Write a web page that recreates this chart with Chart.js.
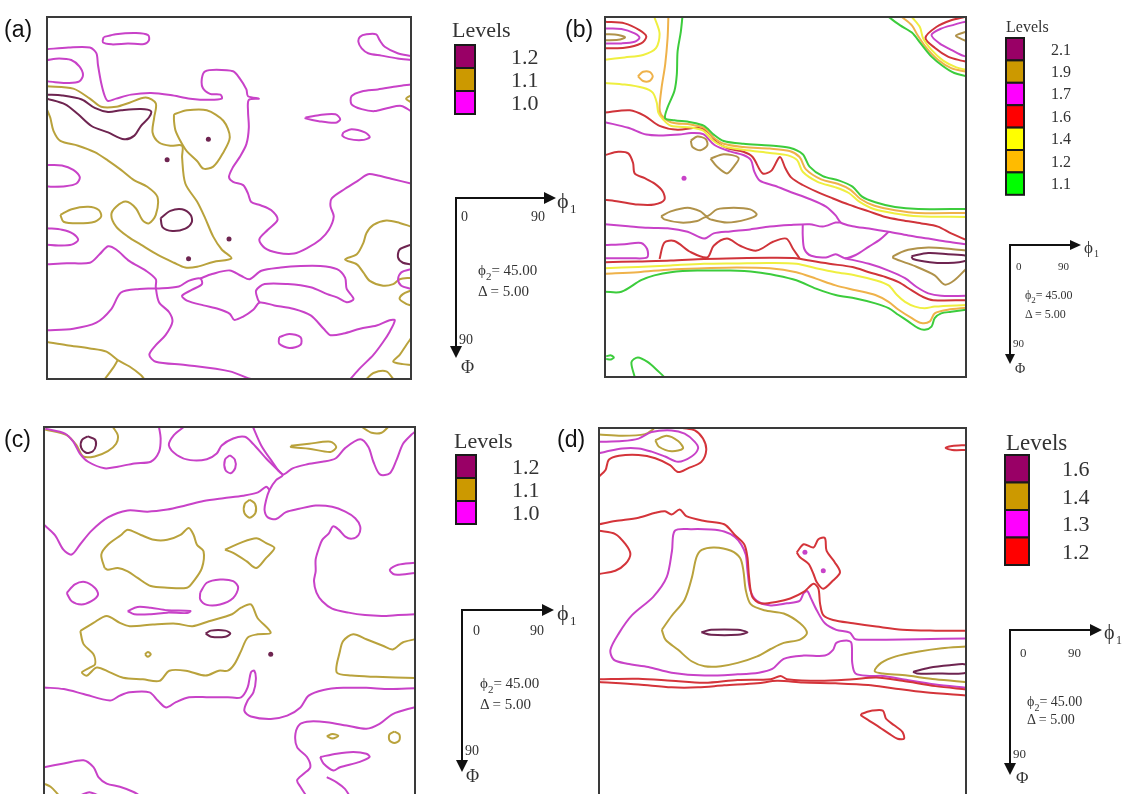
<!DOCTYPE html>
<html><head><meta charset="utf-8">
<script src="https://cdn.jsdelivr.net/npm/chart.js@4.4.1/dist/chart.umd.min.js"></script>
<style>
html,body{margin:0;padding:0;background:#fff;}
body{width:1123px;height:794px;overflow:hidden;position:relative;}
canvas{position:absolute;}
svg{position:absolute;left:0;top:0;}
</style></head><body>
<canvas id="ca" width="372" height="370" style="left:43px;top:13px"></canvas>
<canvas id="cb" width="369" height="368" style="left:601px;top:13px"></canvas>
<canvas id="cc" width="379" height="376" style="left:40px;top:423px"></canvas>
<canvas id="cd" width="375" height="375" style="left:595px;top:424px"></canvas>
<svg id="ann" width="1123" height="794" font-family="Liberation Serif, Times New Roman, serif" fill="#333">
<g font-family="Liberation Sans, Arial, sans-serif" font-size="23" fill="#111">
<text x="4" y="37">(a)</text><text x="565" y="37">(b)</text>
<text x="4" y="447">(c)</text><text x="557" y="447">(d)</text>
</g>
<g stroke="#111" stroke-width="2">
<line x1="456" y1="198" x2="546" y2="198"/><line x1="456" y1="197" x2="456" y2="348"/>
<line x1="1010" y1="245" x2="1072" y2="245"/><line x1="1010" y1="244" x2="1010" y2="355"/>
<line x1="462" y1="610" x2="544" y2="610"/><line x1="462" y1="609" x2="462" y2="762"/>
<line x1="1010" y1="630" x2="1092" y2="630"/><line x1="1010" y1="629" x2="1010" y2="765"/>
</g>
<g fill="#111">
<polygon points="544,192 556,198 544,204"/><polygon points="450,346 456,358 462,346"/>
<polygon points="1070,240 1081,245 1070,250"/><polygon points="1005,354 1010,364 1015,354"/>
<polygon points="542,604 554,610 542,616"/><polygon points="456,760 462,772 468,760"/>
<polygon points="1090,624 1102,630 1090,636"/><polygon points="1004,763 1010,775 1016,763"/>
</g>
<g fill="#333">
<text x="557" y="208" font-size="22">ϕ</text><text x="570" y="213" font-size="13">1</text>
<text x="461" y="221" font-size="14">0</text><text x="531" y="221" font-size="14">90</text>
<text x="478" y="275" font-size="15">ϕ<tspan dy="5" font-size="11">2</tspan><tspan dy="-5">= 45.00</tspan></text>
<text x="478" y="296" font-size="15">Δ = 5.00</text>
<text x="459" y="344" font-size="14">90</text><text x="461" y="373" font-size="18">Φ</text>

<text x="1084" y="253" font-size="17">ϕ</text><text x="1094" y="257" font-size="10">1</text>
<text x="1016" y="270" font-size="11">0</text><text x="1058" y="270" font-size="11">90</text>
<text x="1025" y="299" font-size="12">ϕ<tspan dy="4" font-size="9">2</tspan><tspan dy="-4">= 45.00</tspan></text>
<text x="1025" y="318" font-size="12">Δ = 5.00</text>
<text x="1013" y="347" font-size="11">90</text><text x="1015" y="373" font-size="14">Φ</text>

<text x="557" y="620" font-size="22">ϕ</text><text x="570" y="625" font-size="13">1</text>
<text x="473" y="635" font-size="14">0</text><text x="530" y="635" font-size="14">90</text>
<text x="480" y="688" font-size="15">ϕ<tspan dy="5" font-size="11">2</tspan><tspan dy="-5">= 45.00</tspan></text>
<text x="480" y="709" font-size="15">Δ = 5.00</text>
<text x="465" y="755" font-size="14">90</text><text x="466" y="782" font-size="18">Φ</text>

<text x="1104" y="639" font-size="20">ϕ</text><text x="1116" y="644" font-size="12">1</text>
<text x="1020" y="657" font-size="13">0</text><text x="1068" y="657" font-size="13">90</text>
<text x="1027" y="706" font-size="14">ϕ<tspan dy="5" font-size="10">2</tspan><tspan dy="-5">= 45.00</tspan></text>
<text x="1027" y="724" font-size="14">Δ = 5.00</text>
<text x="1013" y="758" font-size="13">90</text><text x="1016" y="783" font-size="17">Φ</text>
</g>
</svg>
<script>
// ---------- legend levels ----------
const A_LEVELS = ['1.2','1.1','1.0'];
const A_SWATCH = ['#990066','#cc9900','#ff00ff'];
const B_LEVELS = ['2.1','1.9','1.7','1.6','1.4','1.2','1.1'];
const B_SWATCH = ['#990066','#cc9900','#ff00ff','#ff0000','#ffff00','#ffbb00','#00ff00'];
const C_LEVELS = ['1.2','1.1','1.0'];
const C_SWATCH = ['#990066','#cc9900','#ff00ff'];
const D_LEVELS = ['1.6','1.4','1.3','1.2'];
const D_SWATCH = ['#990066','#cc9900','#ff00ff','#ff0000'];

// ---------- panel (a) contours [phi1, Phi] ----------
const A_10 = [
 [[14,5],[17,4.3],[22,4],[25,4.5],[25.2,5.8],[24,6.7],[20,6.6],[16,6.8],[13.8,6.3],[14,5]],
 [[0,10.7],[3,10.3],[6,10.7],[8,12.3],[8.9,14.4],[8,16],[5.3,16.4],[2,16.2],[0,16]],
 [[0,8],[5.3,7.6],[10.6,7.6],[12.2,9],[12.6,11.9],[13.4,16.4],[14.3,19.7],[15.1,20.9],[17.1,20.3],[20.8,19.3],[25.7,18.9],[30.5,19.4],[35.4,20.3],[40.3,20.6],[43.2,20.3],[42.9,19.3],[40.3,19.1],[38.5,17.6],[38.3,15.2],[39.1,13.5],[41.9,13.1],[46,13.5],[47.6,15.2],[49.3,18],[49.7,19.7],[52.4,20.3],[49.9,20.6],[49.7,23.4],[49.9,27.5],[49.3,31.6],[47.6,34.9],[46,37.3],[45,39.8],[46,41],[48.5,41.8],[49.7,43.9],[50.5,46],[52.8,46.8],[55.4,48],[57,50.4],[54.6,52.9],[52.5,55.3],[53.8,57.4],[57,58.6],[61.1,58.8],[64.4,57.4],[67.6,55.3],[69.7,52.9],[70.9,49.6],[70.1,47.1],[70.4,45.1],[73.7,42.7],[77,40.6],[79.4,39.1],[81.8,39.4],[85.1,40.2],[90,41.4]],
 [[90,9.7],[86.7,9],[83.5,7.4],[82.2,5.7],[81.4,4.3],[79,4.3],[77.4,4.9],[77,6.2],[77.8,7.8],[79.4,9],[82.7,9.6],[86.7,10.3],[90,10.7]],
 [[90,16.8],[86.7,17.2],[81.8,18],[77.8,18.5],[75.3,19.7],[75.3,21.7],[77.8,22.9],[81,23.4],[84.3,22.6],[87.6,22.1],[90,23.4]],
 [[63.9,25],[67.2,24.4],[71.3,24.2],[72.5,25.4],[71.3,26.3],[67.2,25.9],[63.9,25.2],[63.9,25]],
 [[73.3,28.7],[75.3,27.9],[78.6,28.7],[79.8,29.9],[77.8,30.6],[74.5,30.3],[73,29.5],[73.3,28.7]],
 [[0,36.8],[3.7,36.9],[6.5,38],[8.1,39.8],[7.3,41.4],[4.5,42.1],[1.2,42.2],[0,42.1]],
 [[0,52.5],[3.7,52.9],[6.5,53.9],[7.7,55.4],[6.1,56.6],[2.8,56.8],[0,56.6]],
 [[0,61.5],[4.9,61.2],[10.6,61.1],[13,59],[15.1,57],[17.1,57.8],[20.4,60.7],[24.5,63.1],[26.9,65.2],[26.9,67.2],[27.7,70.9],[30.2,73.4],[31,75.8],[29.3,79.1],[26.9,81.6],[25.3,84],[26.9,85.7],[34.2,86.5],[45.2,88.1],[49.7,89.8],[50.5,90]],
 [[0,77.9],[6.5,77.5],[12.2,76],[15.9,72.6],[18.3,68.5],[22.8,67.6],[27.7,67.5],[32.6,67],[35,65.6],[37.9,65],[38.3,66.4],[35.9,67.8],[33.4,69.3],[34.6,70.5],[38.7,71.7],[42.4,72.6],[45.2,73.8],[46.3,75.3],[48.5,74.5],[51,72.8],[52.6,71],[56.2,71.7],[61.1,72.6],[65.2,74.2],[68.4,77.5],[70.1,79.1],[73.3,78.7],[77.4,77.5],[81.5,76.7],[84.7,75.4],[86,75.4],[84.7,78.3],[83.1,80.8],[80.7,84],[77.4,87.3],[75,90]],
 [[37.9,65],[40.8,63.9],[45.2,63],[48.1,64.4],[50.1,65.2],[53,63.1],[57.8,62.3],[62.7,61.9],[67.6,61.9],[71.7,62.7],[73.7,64.8],[74.1,67.6],[75.8,70.1],[74.1,70.9],[71.7,69.7],[69.3,68.9],[65.2,67.2],[59.5,66.4],[53.8,66.4],[51.7,68],[52.1,70.1],[52.6,71]],
 [[57.4,79.6],[59.9,78.8],[62.7,79.6],[62.7,81.5],[59.9,82.3],[57.4,81.2],[57.4,79.6]],
 [[90,62.7],[87.6,63.5],[86.8,65.2],[87.6,66.8],[90,67.6]]
];
const A_11 = [
 [[0,17.2],[6.5,17.8],[10.6,20.3],[13.4,22.3],[17.1,22.3],[20.4,21.3],[24.4,20],[26.9,21.5],[26.5,25],[26.1,28.7],[27.7,31.2],[30.5,32],[33.4,32],[33.4,34.9],[34.2,41.4],[37.1,45.9],[39.1,50],[41.1,54.6],[43.2,57.8],[45.6,60],[41.1,60.9],[37.1,62.1],[34.2,62.3],[31.4,61.1],[27.3,59.1],[23.2,56.6],[20,54.6],[17.1,52.1],[15.9,49.2],[17.1,47.2],[19.5,45.9],[22,47.6],[23.6,50.5],[25.2,51.3],[26.9,49.2],[27.3,44.7],[24.8,42.2],[21.6,40.6],[18.3,38],[15.1,35.7],[11.8,33.6],[7.7,32],[3.3,30.8],[1.6,28.3],[0.8,25],[0,23]],
 [[31.4,24.2],[34.6,23.2],[39.5,23.2],[43.6,25.8],[45.2,29.9],[43.4,34],[41.1,37.2],[38.7,37.7],[37.1,35.8],[34.6,33.4],[33.4,31.6],[31.8,28.3],[31.4,25.8],[31.4,24.2]],
 [[3.3,49.2],[6.1,47.8],[10.2,47.2],[12.8,48],[13.4,49.6],[11.8,50.9],[7.7,51.3],[4.1,50.9],[3.3,49.2]],
 [[90,52.1],[87.2,51.2],[83.9,50.6],[80.7,51.7],[79,53.7],[78.2,56.2],[76.6,59],[73.7,60.3],[76.6,61.5],[78.2,63.5],[79.8,65.6],[83.1,66.8],[85.6,66.4],[87.2,65.2],[90,64.8]],
 [[90,68],[88,68.9],[87.2,70.1],[88.8,71.3],[90,71.7]],
 [[90,19.5],[88.8,20.3],[90,21.2]],
 [[0,80.8],[4.9,81.6],[10.6,82.4],[14.7,83.2],[17.5,85.3],[20.4,86.9],[23.2,89],[24,90]],
 [[17.5,85.3],[16.3,87.3],[14.3,90]],
 [[90,79.9],[88.8,81.6],[87.2,84],[85.6,85.7],[88,86.3],[90,86.5]],
 [[79,90],[80.7,88.5],[83.9,88.1],[85.6,90]]
];
const A_12 = [
 [[0,20.3],[4.5,21.7],[7.7,24.2],[11,27.1],[15.1,28.7],[19.1,30.4],[21.6,29.5],[23.2,27.1],[25.2,25],[25.7,23.4],[23.2,22.9],[18.3,23.2],[15.1,23.6],[11.8,22.6],[8.6,20.5],[3.7,19.5],[0,19.3]],
 [[28.1,50],[30.5,48.2],[33.4,47.8],[35.5,49.2],[35.8,51],[34.2,52.6],[31,53.2],[28.6,52.3],[28.1,50]],
 [[90,56.6],[87.2,57.8],[86.8,59.8],[88,61.1],[90,61.5]]
];
const A_DOTS = [[39.9,30.4],[29.7,35.5],[35,60.1],[45,55.2]];

// ---------- panel (b) ----------
const B_11 = [
 [[19.3,0],[18.9,3.7],[18.1,8.6],[17.9,14.4],[17.3,18.5],[15.6,22.6],[15,25.3],[17.3,25.8],[21.4,26.3],[24.7,27.2],[27.1,29.4],[29.6,31],[34.5,31.7],[41.1,32.1],[46,32.7],[49.3,34.3],[51,37.4],[54.3,39.8],[58.4,40.9],[61.7,42.4],[64.1,44.9],[67.4,46.3],[72.3,47.5],[78.1,48],[90,48]],
 [[0,68.7],[4.1,68.7],[9,65.8],[12.3,64.6],[16.4,63.8],[23,63.4],[31.2,63.4],[37.8,63.8],[42.7,64.6],[47.7,65.8],[52.6,67.9],[57.5,69.5],[62.5,70.4],[67.4,71.6],[70.7,72.8],[73.2,74.5],[75.6,76.1],[78.1,77.8],[79.7,78.2],[81.4,77.4],[82.2,75.3],[83.8,74.1],[86.3,73.7],[90,73.2]],
 [[70.7,0],[73.6,2.1],[76.5,3.9],[78.7,6.6],[81.4,9.9],[84.3,12.3],[87.1,14],[90,14.8]],
 [[7.4,90],[6.6,86.3],[8.2,85.1],[10.7,86.3],[13.2,88.5],[14.8,90]],
 [[0.3,84.8],[1.5,84.6],[2.2,85.1],[1.5,85.6],[0.3,85.5]]
];
const B_12 = [
 [[15.8,0],[15.6,5.3],[15,11.9],[14.1,17.7],[13.6,22.6],[14,24.4],[16.4,26.3],[21.4,26.9],[24.7,27.7],[26.9,30],[29.6,31.7],[34.5,32.5],[41.1,32.9],[46,33.5],[48.5,35],[50.1,38.1],[53.9,40.6],[58,41.7],[61.2,43.2],[63.7,45.5],[67.2,47.2],[72.3,48.3],[78.1,49],[90,49]],
 [[0,64.2],[8.2,63.8],[16.4,63.1],[24.7,62.8],[32.9,62.6],[41.1,62.8],[47.7,63.8],[52.6,65.4],[57.5,67.1],[62.5,68.3],[67.4,69.5],[70.7,71.2],[73.2,73.2],[76.5,75.3],[78.9,76.5],[81,76.1],[82.2,74.1],[85.5,73.2],[90,72.7]],
 [[74,0],[76.5,2.1],[77.9,4.5],[80.2,7.8],[83,10.7],[86.3,12.8],[90,13.7]],
 [[8.2,14.8],[9.5,13.7],[11.1,13.7],[11.9,14.8],[11.1,16],[9.5,16],[8.2,14.8]]
];
const B_14 = [
 [[0,16.5],[4.9,16.9],[9.5,17.7],[11.9,18.9],[12.9,21.4],[13.3,23.9],[14.4,25.5],[16.4,27.2],[21.4,27.6],[24.5,28.4],[26.7,30.7],[29.4,32.3],[34.5,33.2],[41.1,34],[45.6,34.6],[47.9,35.8],[49.3,38.7],[53,41.2],[57.5,42.6],[60.8,44],[63.3,46.1],[67,48],[72.3,49.1],[78.1,49.8],[90,50]],
 [[12.3,0],[13.6,4.1],[12.7,7.8],[9.5,9.5],[4.9,10.1],[0,10.7]],
 [[0,62.8],[8.2,62.5],[16.4,62.1],[24.7,61.7],[32.9,61.6],[41.1,61.5],[47.7,61.7],[52.6,62.8],[57.5,63.8],[62.5,64.6],[67.4,65.8],[70.7,67.1],[72.8,69.5],[74.8,71.2],[77.3,72.4],[79.7,72.8],[82.2,72.4],[90,72]],
 [[76.5,0],[78.5,2.5],[79.3,5.3],[81.4,8.2],[84.3,10.9],[87.6,12.6],[90,13.2]]
];
const B_16 = [
 [[0,1.2],[4.9,1.6],[8.6,3.3],[10.3,4.9],[9,6.6],[4.9,7.7],[0,7.8]],
 [[0,23.9],[6.2,23.3],[9.9,24.7],[13.6,27.2],[18.1,28.2],[23,27.7],[25.5,28.6],[27.9,31.3],[30.8,32.9],[34.5,33.7],[36.8,35],[39.3,39.1],[41.5,38.4],[43.6,35],[45,37.9],[46.4,40.1],[49.3,42],[52.6,43.6],[56.7,45.3],[60.8,46.9],[65.8,48.6],[69.9,50],[74,50.8],[78.9,51.6],[83,52.4],[86.3,54.1],[90,55.7]],
 [[0,34.5],[3.3,33.7],[5.8,34.1],[7,36.5],[7.4,39.1],[9.9,40.3],[12.3,41.6],[14.4,43.6],[14.8,45.7],[12.3,46.9],[8.2,46.9],[3.3,46.1],[0,45.7]],
 [[13.6,60.5],[14.8,56.4],[17.3,56],[21.4,58.8],[25.5,60.1],[27.1,57.2],[30.4,55.4],[33.7,57.2],[37.8,58.4],[41.9,56.2],[45.2,55.4],[46.9,58],[48.5,60.3]],
 [[0,61.3],[8.2,61.1],[16.4,60.9],[24.7,60.5],[32.9,60.3],[41.1,60.2],[47.7,60.3],[51,60.9],[55.9,61.7],[61.7,62.5],[65.8,63.8],[69.9,65],[73.2,66.3],[76.4,68.3],[79.3,70],[81.8,70.8],[90,70.8]],
 [[89.6,0],[86.3,0.8],[82.6,2.5],[79.9,5.2],[82.2,7.7],[85.5,9.9],[88.8,10.9],[90,11.1]]
];
const B_17 = [
 [[0,2.9],[4.1,3],[7.4,4.1],[8.6,5.2],[7.4,6.2],[4.1,6.6],[0,6.6]],
 [[0,26.3],[5.8,27.7],[10.3,29.4],[14.5,29.6],[18.5,29.4],[21.5,29],[24.5,29.3],[27.3,32],[31.2,33.6],[34.5,34.5],[36.4,35.8],[37.2,38.6],[38.6,40.9],[42.3,42.2],[46.4,43.8],[51,45.5],[55.1,47.4],[57.5,49.6],[58.8,51.4],[61.7,52.3],[65.8,52.9],[70.7,53.7],[75.6,54.6],[80.6,55.4],[85.5,56.2],[90,56.8]],
 [[0,51.8],[5.8,52.3],[10.7,52.7],[15.6,52.8],[20.6,53.7],[24.7,55.4],[27.1,54.1],[31.2,53.6],[36.2,53.1],[41.1,52.4],[46,52],[51,51.8],[54.3,52.4],[57.5,51.4],[58.8,51.4]],
 [[0,57],[4.9,56.8],[9,56.5],[10.5,58],[10.5,60.1],[6.6,60.3],[0,60.3]],
 [[49.3,52],[49.3,54.7],[49.7,58],[51.4,59.7],[55.1,60.1],[57.5,59.3],[59.8,60.3],[62.5,59.5],[65.8,57.4],[68.6,55.6],[70.7,53.7]],
 [[59.8,60.3],[65.8,61.7],[70.7,63.4],[74.8,65.3],[77.7,67.5],[80.6,69.1],[83.8,69.7],[90,69.7]],
 [[90,1.1],[87.1,1.9],[83.8,2.9],[81.4,4.5],[83.4,6.6],[86.3,8.2],[88.8,9.5],[90,9.9]]
];
const B_19 = [
 [[21.4,30.9],[23,29.9],[25.1,30.5],[25.5,32.1],[23.8,33.3],[21.8,32.5],[21.4,30.9]],
 [[26.3,35.4],[29.6,34.3],[33.3,35.2],[32.1,37.4],[30.4,39.1],[27.9,37.4],[26.3,35.4]],
 [[14,49.8],[16.4,48.6],[20.6,47.7],[23.8,48.6],[25.5,49.8],[27.9,48.1],[32.1,47.7],[36.2,48.1],[37.8,49.4],[35.3,50.6],[30.4,51.4],[26.3,50.6],[25.1,50],[23,51],[18.9,51.4],[14.8,50.6],[14,49.8]],
 [[90,58.4],[86.3,58],[80.6,57.6],[75.6,58.2],[71.9,59.8],[71.9,60.3],[77.3,62.3],[82.2,64.6],[84.7,66.9],[87.1,65.8],[90,63]],
 [[90,3.7],[87.5,4.7],[90,6]],
 [[0,4.3],[3.3,4.5],[5,5.1],[3.3,5.7],[0,5.8]]
];
const B_21 = [
 [[76.4,59.8],[80.6,59],[85.5,59.3],[90,59.7],[90,60.9],[85.5,61.5],[81,61.3],[76.8,60.5],[76.4,59.8]]
];
const B_DOTS = [[19.7,40.3]];

// ---------- panel (c) ----------
const C_10 = [
 [[0.3,0.4],[5.1,1.6],[7.1,3.6],[8.7,6.5],[10.7,8.5],[14.7,10.1],[17.9,9.7],[21.9,8.9],[25.9,8.5],[27.9,6.1],[28.3,2.8],[27.9,0]],
 [[33.9,0],[31.5,2],[30.3,4.5],[32.3,6.9],[35.5,8.1],[39.5,7.9],[41.9,6.5],[43.1,4.5],[45.9,2.8],[48.7,2.4],[50.7,4.1],[53.9,7.7],[56.7,10.5],[57.9,11.8],[56.3,13],[54.7,15.4],[53.9,17.8],[53.5,20.3],[54.3,22.1],[56.3,22.5],[58.7,20.8],[61.9,20],[65.9,19.2],[69.9,19.5],[73.1,20.7],[75.5,22.3],[76.7,24.3],[76.3,26.4],[74.7,27.3],[73.1,26.8],[71.5,25.1],[70.1,24.3],[69.1,26],[67.5,27.6],[66.7,29.6],[65.9,32.4],[65.9,35.3],[65.5,37.7],[66.1,40.5],[67.5,42.6],[69.9,44.4],[73.9,45.4],[77.9,46],[81.9,46.2],[85.9,46],[90,45.8]],
 [[50.7,0],[52.7,4.5],[55.1,8.1],[57.9,11.6],[60.3,10.1],[63.5,9.2],[67.5,8.5],[70.7,7.7],[73.1,5.1],[76.7,3],[78.7,4.9],[79.9,8.5],[81.5,11.6],[83.9,11.3],[85.5,8.1],[87.1,4.1],[89.1,1.9],[90,1.2]],
 [[45.1,6.9],[46.3,8],[46.4,10],[45.3,11.3],[44,10.5],[43.9,8],[45.1,6.9]],
 [[0,23.9],[2.7,26.5],[4.7,30],[6.7,31.2],[8.7,28.8],[11.5,25.4],[15.5,22.1],[20.3,20.4],[25.1,20.7],[29.9,20.2],[34.3,19.2],[38.7,18.1],[43.5,17.4],[48.3,16.8],[51.9,16],[53.9,14.6],[54.7,15.4]],
 [[5.5,40.6],[7.5,38.5],[9.9,37.9],[12.3,39.3],[13.1,41],[11.5,42.6],[9.1,43.4],[6.7,42.6],[5.5,40.6]],
 [[37.9,40.5],[39.5,38.1],[42.7,37.3],[45.9,37.7],[47.1,39.3],[45.9,41.8],[42.7,43.4],[39.5,43.5],[37.9,42.2],[37.9,40.5]],
 [[20.3,45],[22.7,44],[25.9,44.2],[29.9,44.8],[35.5,45],[34.7,45.5],[29.9,45.4],[25.9,45.8],[21.9,45.8],[20.3,45]],
 [[90,33.2],[85.9,33.7],[83.9,34.9],[85.1,36.1],[90,35.7]],
 [[0,63.7],[4.8,64.1],[9.6,65.3],[16,66.9],[18.4,65.7],[20.8,64.9],[25.6,64.9],[27.6,66.9],[29.6,68.6],[32,67.3],[35.2,66.1],[40,66.1],[44.6,66.1],[47.8,66.1],[49.4,63.7],[50.2,60],[51,59.6],[51.4,61.7],[50.8,64.9],[49.4,66.9],[48.6,69.4],[50.2,70.8],[55,71.4],[59,70.6],[62.2,68.6],[64.2,65.7],[67.8,64.3],[72.6,63.8],[78.2,63.8],[83.8,64.1],[90,63.9]],
 [[90,68.5],[84.6,70.2],[81.4,72.6],[78.2,73.8],[73.4,73],[68.6,72.2],[64.6,72],[62.2,72.6],[61,75],[61.4,78.3],[63.8,80.7],[64.6,83.2],[63,84.8],[61.4,86.4],[62.2,88],[63.5,90]],
 [[67,80.7],[71,79.9],[75,79.5],[78.2,79.9],[79,80.7],[76.6,81.9],[71.8,83.2],[70.2,84],[67.8,82.3],[67,80.7]],
 [[68.6,85.6],[71,86.9],[73,88.5],[74,90]],
 [[0,83.2],[4.8,82.3],[9.6,81.5],[12,83.2],[13.2,85.6],[15.2,87.2],[18.4,88],[21.6,89.2],[23,90]],
 [[9,90],[11,89.3],[13,90]]
];
const C_11 = [
 [[0.3,0.6],[5.5,2],[7.9,4.5],[9.5,7.2],[12.3,7.2],[15.5,5.9],[17.5,4.1],[17.9,2],[16.7,0]],
 [[59.9,4.6],[64.3,4.1],[69.5,3.6],[70.9,4.9],[69.5,6.1],[64.3,5.3],[59.9,4.9],[59.9,4.6]],
 [[77.1,0],[79.5,1.4],[81.9,1.4],[83.5,0]],
 [[14.7,34.5],[13.9,31.2],[15.5,28.8],[18.7,26.4],[20.3,25.1],[23.5,26.4],[26.7,27.6],[29.9,27.6],[33.1,26.4],[35.1,24.7],[36.3,26.4],[37.1,28.8],[38.7,30.4],[38.3,34.5],[36.3,37.7],[34.7,39.3],[29.9,39.3],[25.9,38.9],[22.7,36.9],[20.3,35.3],[17.9,34.5],[15.5,34.9],[14.7,34.5]],
 [[43.9,30],[47.5,28.4],[51.5,27.2],[53.9,28.4],[55.9,29.6],[53.9,32],[51.5,34.5],[49.1,32.8],[45.9,30.8],[43.9,30]],
 [[49.9,17.8],[51.2,18.8],[51.3,21],[49.9,22.2],[48.6,21],[48.7,18.8],[49.9,17.8]],
 [[8.8,49.9],[12,47.9],[15.2,46.2],[18.4,47.9],[20.8,48.7],[26.4,48.3],[32,48.1],[36,48.7],[40,47.5],[45.6,45.8],[47.8,44.2],[50.2,43.4],[51.8,46.7],[55,50.3],[51.8,50.7],[49.4,51.5],[47.8,54.8],[46.2,58],[44.6,59.6],[42.4,59.6],[39.2,60.8],[34.4,59.6],[30.4,59.6],[28,62.1],[24,61.7],[19.2,61.3],[16,60],[12.8,58.8],[10.4,60.8],[9.2,60],[11.2,58.8],[12.4,58],[12,55.6],[9.6,53.1],[8.8,49.9]],
 [[24.5,55.6],[25.2,55],[25.9,55.6],[25.2,56.2],[24.5,55.6]],
 [[90,51.9],[87,52.7],[84.6,54.4],[82.2,53.5],[78.2,51.9],[75,50.7],[72.6,52.3],[71.8,54.8],[71,60],[74.6,60.8],[80.6,61.1],[90,61.4]],
 [[68.6,75.6],[70,75.1],[71.4,75.5],[70,76.2],[68.6,75.6]],
 [[85,74.5],[86.2,75.2],[86.2,76.6],[85,77.3],[83.8,76.6],[83.8,75.2],[85,74.5]],
 [[0,87.2],[1.6,88],[3.2,89.6],[3.5,90]]
];
const C_12 = [
 [[10.6,2.3],[12.3,3],[12.6,4.5],[11.8,6],[10.2,6.3],[9,5],[9.2,3.2],[10.6,2.3]],
 [[39.2,50.5],[40.5,49.8],[44,49.8],[45.2,50.5],[44,51.3],[40.5,51.3],[39.2,50.5]]
];
const C_DOTS = [[55,55.6]];

// ---------- panel (d) ----------
const D_12 = [
 [[20.5,0],[23.5,0.6],[25.5,2.6],[26.3,5.4],[25.1,8.3],[21.8,9.9],[19.4,10.8],[17.4,9.1],[13.8,7.4],[9.7,6.6],[4.9,6.8],[2.4,7.8],[1.6,10.3],[0,11.9]],
 [[90,4.2],[86.6,4.4],[85,4.9],[86.6,5.4],[90,5.4]],
 [[0,23.6],[4,22.8],[9.7,22],[13.8,20.8],[16.2,20.4],[17.8,21.2],[19.8,20],[21.4,21.6],[25.9,22.8],[30.7,23.6],[33.2,26.1],[35.6,28.5],[36.4,31.7],[36.8,36.6],[37.6,41.4],[39.6,43],[43.7,42.6],[46.9,41.8],[50.2,40.2],[52.6,38.2],[53.8,39.4],[54.2,43],[55,45.9],[57.4,47.1],[62.3,47.9],[68,48.7],[74.4,49.5],[82.5,49.7],[90,49.7]],
 [[48.5,30.5],[50.2,28.5],[52.6,29.3],[53.8,27.3],[55.4,27],[55.8,30.1],[57.8,32.9],[59.1,35.4],[57.4,37.4],[55,39.4],[53.4,37.8],[52.6,35.8],[51.4,33.3],[49.3,31.7],[48.5,30.5]],
 [[0,25.2],[4,26],[6.5,28.5],[7.7,30.9],[6.5,33.3],[4,35],[0,35.8]],
 [[0,61.6],[9.7,61.5],[17.8,62],[25.9,62.5],[34,61.8],[42.1,61.6],[44.5,60.8],[46.1,61.6],[54.2,62],[62.3,61.6],[68,61.2],[74.4,62],[82.5,63.3],[90,64.1]],
 [[0,62.3],[9.7,62.9],[17.8,63.6],[24.3,63.6],[30.7,63.1],[38.8,62.6],[43.7,62],[50,62.4],[58,62.6],[66,63],[72,63.8],[80,64.8],[90,65.6]],
 [[64.3,70.1],[67.1,69.3],[69.6,69.3],[70.4,71.3],[72.4,72.9],[74.4,74.5],[74.8,76.2],[73.2,76.2],[71.2,75],[68.8,73.4],[66.3,71.8],[64.3,70.5],[64.3,70.1]]
];
const D_13 = [
 [[0,3.4],[5.7,3.2],[9.7,2.6],[12.9,1],[17.8,0.6],[21,1.4],[23.5,3.4],[24.3,5],[22.7,7],[19.4,8.3],[16.2,7],[12.9,5.8],[9.7,5],[5.7,5],[1.6,5.8],[0,6.2]],
 [[90,51.6],[78.5,51.8],[70.4,51.9],[64.7,51.9],[62.8,51.8],[61.5,50.2],[58.2,49.5],[55.4,47.9],[53.4,44.7],[51.9,41.6],[51.1,40],[50.2,40.5],[49.2,42.4],[46.1,43],[42.1,43.5],[38.7,42.4],[37.1,39.8],[36.4,34.9],[36,31.1],[34.9,28.6],[33.3,26.7],[30.7,25.4],[27.5,24.9],[22.7,24.8],[18.6,25.2],[17.9,30.1],[16.6,36.6],[13.3,41.4],[8.1,45.9],[4.9,50.3],[2.8,54.4],[3.6,56.8],[6.9,57.8],[12.1,58.6],[17.8,60],[25.9,60.7],[34,60.4],[39.2,60],[42.5,59.1],[45.3,56.6],[50.2,55.8],[55.4,55.8],[57.4,54.4],[58.2,52.7],[60.7,52.1],[61.9,52.7],[62.1,57.6],[62.9,60.2],[66.3,60.8],[69.6,60.8],[74.4,61.6],[82.5,62.9],[90,63.7]]
];
const D_14 = [
 [[0,1.6],[5.7,1.9],[11.3,1.5],[13.3,0.3],[13.5,0]],
 [[13.8,3],[16.6,1.9],[19.4,3.2],[20.6,5],[17.8,5.7],[14.7,4.6],[13.8,3]],
 [[15.4,49.5],[17.8,46.1],[21,42.1],[22.8,36.6],[23.9,31.7],[25.2,29.9],[28.3,29.3],[32.4,30.1],[34.6,31.9],[35.4,34.9],[36,39.8],[37.2,43.2],[40.5,44.7],[45.3,45.5],[49.3,47.9],[51,50.3],[49.3,51.9],[45.3,52.7],[42.1,54.2],[38.8,56],[34,57.6],[29.9,58.4],[25.9,58.4],[22.7,57.2],[19.4,54.4],[16.3,51.9],[15.4,49.5]],
 [[90,53.6],[84.1,54],[78.5,54.8],[72.8,56],[69.2,57.6],[67.6,59.6],[69.6,60.2],[74.4,60.6],[82.5,61.6],[90,62.3]]
];
const D_16 = [
 [[25.1,50.1],[27.5,49.5],[34,49.5],[36.4,50.1],[34,50.7],[27.5,50.7],[25.1,50.1]],
 [[77,59.8],[81,58.8],[86,58.2],[90,58],[90,60],[84,60.2],[78,60.2],[77,59.8]]
];
const D_DOTS = [[50.5,30.5],[55,35]];

// ---------- drawing ----------
const toXY = p => p.map(([x, y]) => ({x, y}));
function lineSets(polys, color) {
  return polys.map(p => ({data: toXY(p), showLine: true, borderColor: color, backgroundColor: color,
    borderWidth: 2, pointRadius: 0, tension: 0.3, fill: false}));
}
function dotSet(pts, color, r) {
  return {data: toXY(pts), showLine: false, pointRadius: r, pointBackgroundColor: color,
    pointBorderColor: color, pointBorderWidth: 0};
}
const framePlugin = {
  id: 'frame',
  afterDatasetsDraw(c) {
    const {ctx, chartArea: a} = c;
    ctx.save(); ctx.strokeStyle = '#3a3a3a'; ctx.lineWidth = 2;
    ctx.strokeRect(a.left, a.top, a.right - a.left, a.bottom - a.top); ctx.restore();
  }
};
function panel(id, sets) {
  new Chart(document.getElementById(id), {
    type: 'scatter',
    data: {datasets: sets},
    options: {
      responsive: false, animation: false, events: [],
      layout: {padding: 2},
      plugins: {legend: {display: false}, tooltip: {enabled: false}},
      scales: {
        x: {type: 'linear', min: 0, max: 90, display: false},
        y: {type: 'linear', min: 0, max: 90, reverse: true, display: false}
      }
    },
    plugins: [framePlugin]
  });
}
const MAG = '#c842c8', GLD = '#b9a23c', PUR = '#6e2450';
panel('ca', [...lineSets(A_10, MAG), ...lineSets(A_11, GLD), ...lineSets(A_12, PUR), dotSet(A_DOTS, PUR, 2.5)]);
panel('cb', [...lineSets(B_11, '#3ccc3c'), ...lineSets(B_12, '#efb24a'), ...lineSets(B_14, '#efef40'),
  ...lineSets(B_16, '#d0343a'), ...lineSets(B_17, MAG), ...lineSets(B_19, '#b0924a'), ...lineSets(B_21, PUR),
  dotSet(B_DOTS, MAG, 2.5)]);
panel('cc', [...lineSets(C_10, MAG), ...lineSets(C_11, GLD), ...lineSets(C_12, PUR), dotSet(C_DOTS, PUR, 2.5)]);
panel('cd', [...lineSets(D_12, '#d4343a'), ...lineSets(D_13, MAG), ...lineSets(D_14, GLD), ...lineSets(D_16, PUR),
  dotSet(D_DOTS, MAG, 2.5)]);

// ---------- legends (SVG text) ----------
const NS = 'http://www.w3.org/2000/svg';
const svg = document.getElementById('ann');
function el(tag, attrs, text) {
  const e = document.createElementNS(NS, tag);
  for (const k in attrs) e.setAttribute(k, attrs[k]);
  if (text != null) e.textContent = text;
  svg.appendChild(e); return e;
}
function legend(cfg, levels, colors) {
  el('text', {x: cfg.tx, y: cfg.ty, 'font-size': cfg.tfs, fill: '#333'}, 'Levels');
  levels.forEach((lv, i) => {
    el('rect', {x: cfg.x, y: cfg.y + i * cfg.h, width: cfg.w, height: cfg.h, fill: colors[i], stroke: '#1a1a1a', 'stroke-width': 2});
    el('text', {x: cfg.lx, y: cfg.y + i * cfg.h + cfg.h / 2 + cfg.fs * 0.34, 'font-size': cfg.fs, fill: '#333'}, lv);
  });
}
legend({tx: 452, ty: 37, tfs: 22, x: 455, y: 45, w: 20, h: 23, lx: 511, fs: 22}, A_LEVELS, A_SWATCH);
legend({tx: 1006, ty: 32, tfs: 16, x: 1006, y: 38, w: 18, h: 22.4, lx: 1051, fs: 16}, B_LEVELS, B_SWATCH);
legend({tx: 454, ty: 448, tfs: 22, x: 456, y: 455, w: 20, h: 23, lx: 512, fs: 22}, C_LEVELS, C_SWATCH);
legend({tx: 1006, ty: 450, tfs: 23, x: 1005, y: 455, w: 24, h: 27.5, lx: 1062, fs: 22}, D_LEVELS, D_SWATCH);
</script>
</body></html>
